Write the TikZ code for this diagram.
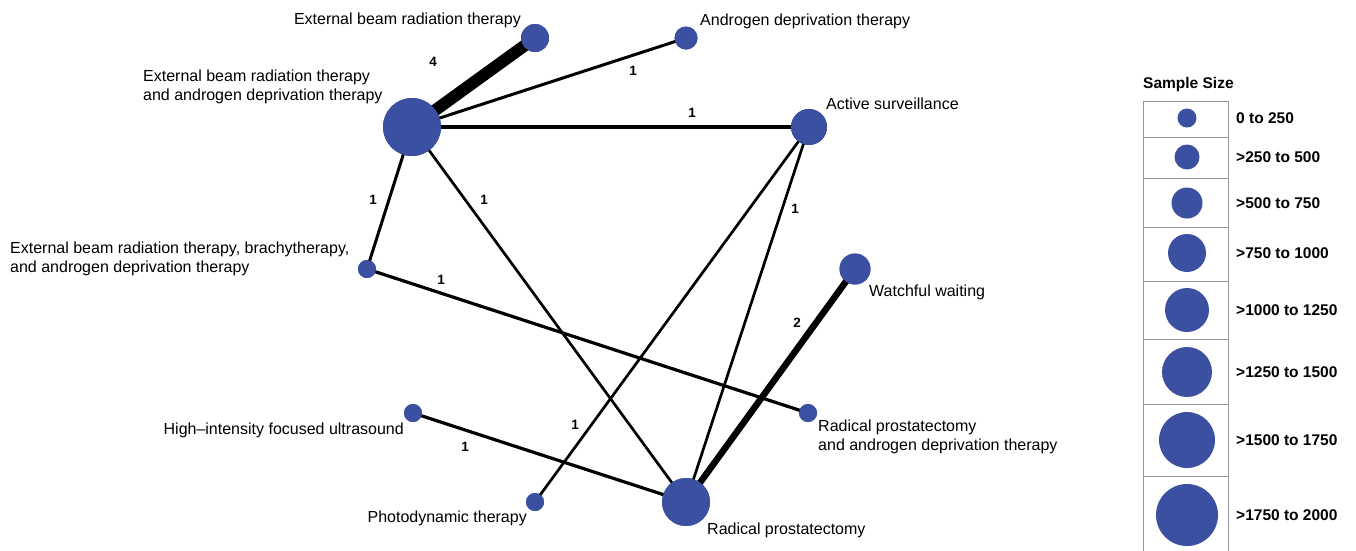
\documentclass[tikz,border=0pt]{standalone}
\usepackage{fontspec}
\setmainfont{Liberation Sans}
\definecolor{nodeblue}{RGB}{59,80,160}
\definecolor{boxgray}{RGB}{150,150,150}
\begin{document}
\begin{tikzpicture}[x=1pt,y=-1pt,
  tnode/.style={circle,fill=nodeblue,draw=none,inner sep=0pt,minimum size=#1},
  lbl/.style={font=\fontsize{16}{18.5}\selectfont,inner sep=0pt,align=left},
  elbl/.style={font=\bfseries\fontsize{13.5}{15}\selectfont,inner sep=0pt},
  edge/.style={line width=#1,black},
  leglbl/.style={font=\bfseries\fontsize{15.5}{17}\selectfont,inner sep=0pt,anchor=west}]
\useasboundingbox (0,0) rectangle (1356,550);
% nodes
\node[tnode=28pt] (ebrt) at (535,38) {};
\node[tnode=23pt] (adt) at (686,38) {};
\node[tnode=58pt] (ebrtadt) at (412,127) {};
\node[tnode=36pt] (as) at (809,127) {};
\node[tnode=18pt] (ebrtbt) at (367,269) {};
\node[tnode=31pt] (ww) at (855,269) {};
\node[tnode=18pt] (hifu) at (413,413) {};
\node[tnode=18pt] (rpadt) at (808,413) {};
\node[tnode=18pt] (pdt) at (535,502) {};
\node[tnode=48pt] (rp) at (686,502) {};
% edges
\draw[edge=12pt] (ebrtadt.center) -- (ebrt.center);
\draw[edge=3pt] (ebrtadt.center) -- (adt.center);
\draw[edge=4.5pt] (ebrtadt.center) -- (as.center);
\draw[edge=3pt] (ebrtadt.center) -- (ebrtbt.center);
\draw[edge=2.7pt] (ebrtadt.center) -- (rp.center);
\draw[edge=3.2pt] (ebrtbt.center) -- (rpadt.center);
\draw[edge=2.7pt] (as.center) -- (pdt.center);
\draw[edge=2.7pt] (as.center) -- (rp.center);
\draw[edge=6.5pt] (ww.center) -- (rp.center);
\draw[edge=3.2pt] (hifu.center) -- (rp.center);
% redraw nodes on top
\foreach \n/\s in {ebrt/28pt,adt/23pt,ebrtadt/58pt,as/36pt,ebrtbt/18pt,ww/31pt,hifu/18pt,rpadt/18pt,pdt/18pt,rp/48pt}
  \fill[nodeblue] (\n.center) circle[radius=\s/2];
% edge labels
\node[elbl] (l1) at (433,62) {4};
\node[elbl] (l2) at (633,71) {1};
\node[elbl] (l3) at (692,113) {1};
\node[elbl] (l4) at (373,200) {1};
\node[elbl] (l5) at (484,200) {1};
\node[elbl] (l6) at (441,280) {1};
\node[elbl] (l7) at (575,425) {1};
\node[elbl] (l8) at (795,209) {1};
\node[elbl] (l9) at (797,323) {2};
\node[elbl] (l10) at (465,447) {1};
% node labels
\node[lbl,anchor=east] (t1) at (521,20) {External beam radiation therapy};
\node[lbl,anchor=north west] (t2) at (143,70) {External beam radiation therapy\\and androgen deprivation therapy};
\node[lbl,anchor=west] (t3) at (700,21) {Androgen deprivation therapy};
\node[lbl,anchor=west] (t4) at (826,104) {Active surveillance};
\node[lbl,anchor=north west] (t5) at (10,242) {External beam radiation therapy, brachytherapy,\\and androgen deprivation therapy};
\node[lbl,anchor=west] (t6) at (869,292) {Watchful waiting};
\node[lbl,anchor=east] (t7) at (404,430) {High{\textendash}intensity focused ultrasound};
\node[lbl,anchor=north west] (t8) at (818,420) {Radical prostatectomy\\and androgen deprivation therapy};
\node[lbl,anchor=east] (t9) at (527,518) {Photodynamic therapy};
\node[lbl,anchor=west] (t10) at (707,530) {Radical prostatectomy};
% legend
\node[font=\bfseries\fontsize{15.5}{17}\selectfont,inner sep=0pt,anchor=west] (lt) at (1143,84) {Sample Size};
\draw[boxgray,line width=1pt] (1143,556) -- (1143,101) -- (1228,101) -- (1228,556);
\foreach \yy in {137,178,227,281,339,404,476}
  \draw[boxgray,line width=1pt] (1143,\yy) -- (1228,\yy);
\foreach \yy/\r/\t [count=\i] in {118/9.5/0 to 250, 157/12.5/>250 to 500, 203/15.5/>500 to 750, 253/19/>750 to 1000, 310/22/>1000 to 1250, 372/25/>1250 to 1500, 440/28/>1500 to 1750, 515/31/>1750 to 2000}{
  \node[tnode=2*\r pt] (lc\i) at (1187,\yy) {};
  \node[leglbl] (ll\i) at (1236,\yy) {\t};
}
\end{tikzpicture}
\end{document}
